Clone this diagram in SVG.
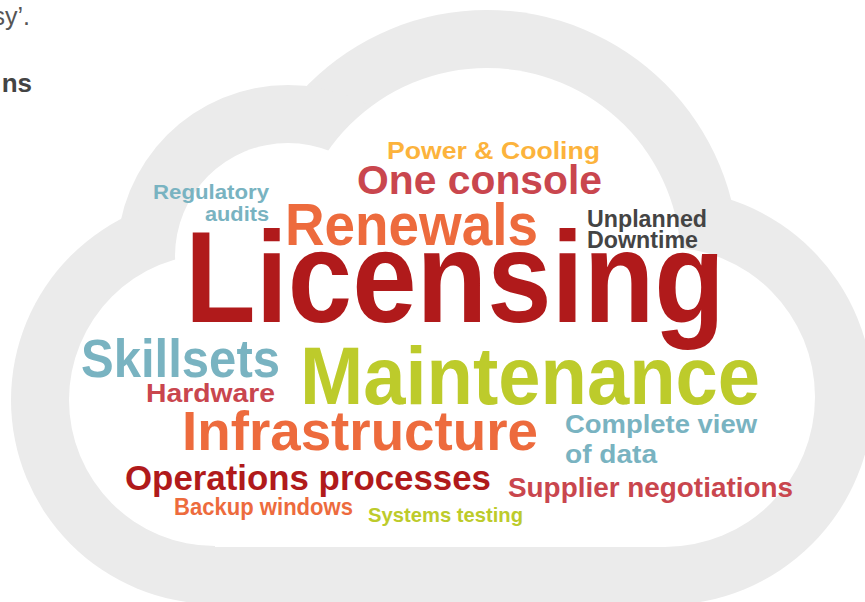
<svg xmlns="http://www.w3.org/2000/svg" width="865" height="602" viewBox="0 0 865 602">
<style>
.w{font-family:"Liberation Sans",Arial,sans-serif;font-weight:bold;}
.red{fill:#b01a1b;}
.org{fill:#ed6b3d;}
.rose{fill:#c9464e;}
.yel{fill:#fcb33c;}
.teal{fill:#79b3c1;}
.lime{fill:#bdcb2b;}
.dark{fill:#444444;}
.out{fill:#ebebeb;}
.in{fill:#ffffff;}
</style>
<rect width="865" height="602" fill="#ffffff"/>
<g id="page-text">
<text x="30" y="25" text-anchor="end" font-family="Liberation Sans, Arial, sans-serif" font-size="25" fill="#555555">sy’.</text>
<text x="32" y="92" text-anchor="end" font-family="Liberation Sans, Arial, sans-serif" font-size="26" font-weight="bold" fill="#444444">ns</text>
</g>
<g id="cloud">
<g class="out">
<circle cx="487" cy="262" r="252"/>
<circle cx="288" cy="256" r="171"/>
<circle cx="215" cy="400" r="204"/>
<circle cx="665" cy="397" r="208"/>
<rect x="215" y="262" width="450" height="343"/>
</g>
<g class="in">
<circle cx="487" cy="262" r="194"/>
<circle cx="288" cy="256" r="113"/>
<circle cx="215" cy="400" r="146"/>
<circle cx="665" cy="397" r="150"/>
<rect x="215" y="300" width="450" height="247"/>
</g>
</g>
<g id="words">
<g id="w-power"><text class="w yel" x="387" y="159" font-size="24.5" textLength="213" lengthAdjust="spacingAndGlyphs">Power &amp; Cooling</text></g>
<g id="w-oneconsole"><text class="w rose" x="357" y="194" font-size="40.5" textLength="245" lengthAdjust="spacingAndGlyphs">One console</text></g>
<g id="w-regulatory"><text class="w teal" x="153" y="199" font-size="20" textLength="116" lengthAdjust="spacingAndGlyphs">Regulatory</text>
<text class="w teal" x="205" y="221" font-size="20" textLength="64" lengthAdjust="spacingAndGlyphs">audits</text></g>
<g id="w-renewals"><text class="w org" x="285" y="245" font-size="60" textLength="253" lengthAdjust="spacingAndGlyphs">Renewals</text></g>
<g id="w-unplanned"><text class="w dark" x="587" y="227" font-size="23.5" textLength="120" lengthAdjust="spacingAndGlyphs">Unplanned</text>
<text class="w dark" x="587" y="248" font-size="23.5" textLength="111" lengthAdjust="spacingAndGlyphs">Downtime</text></g>
<g id="w-licensing"><text class="w red" x="185" y="322" font-size="130" textLength="540" lengthAdjust="spacingAndGlyphs">Licensing</text></g>
<g id="w-skillsets"><text class="w teal" x="81" y="377" font-size="54.5" textLength="199" lengthAdjust="spacingAndGlyphs">Skillsets</text></g>
<g id="w-maintenance"><text class="w lime" x="300" y="404" font-size="81" textLength="460" lengthAdjust="spacingAndGlyphs">Maintenance</text></g>
<g id="w-hardware"><text class="w rose" x="146" y="402" font-size="26.5" textLength="129" lengthAdjust="spacingAndGlyphs">Hardware</text></g>
<g id="w-infrastructure"><text class="w org" x="182" y="450" font-size="55" textLength="356" lengthAdjust="spacingAndGlyphs">Infrastructure</text></g>
<g id="w-complete"><text class="w teal" x="565" y="433" font-size="26.5" textLength="192" lengthAdjust="spacingAndGlyphs">Complete view</text>
<text class="w teal" x="565" y="463" font-size="26.5" textLength="92" lengthAdjust="spacingAndGlyphs">of data</text></g>
<g id="w-operations"><text class="w red" x="125" y="490" font-size="35" textLength="366" lengthAdjust="spacingAndGlyphs">Operations processes</text></g>
<g id="w-supplier"><text class="w rose" x="508" y="497" font-size="27.5" textLength="285" lengthAdjust="spacingAndGlyphs">Supplier negotiations</text></g>
<g id="w-backup"><text class="w org" x="174" y="515" font-size="24" textLength="179" lengthAdjust="spacingAndGlyphs">Backup windows</text></g>
<g id="w-systems"><text class="w lime" x="368" y="522" font-size="21" textLength="155" lengthAdjust="spacingAndGlyphs">Systems testing</text></g>
</g>
</svg>
